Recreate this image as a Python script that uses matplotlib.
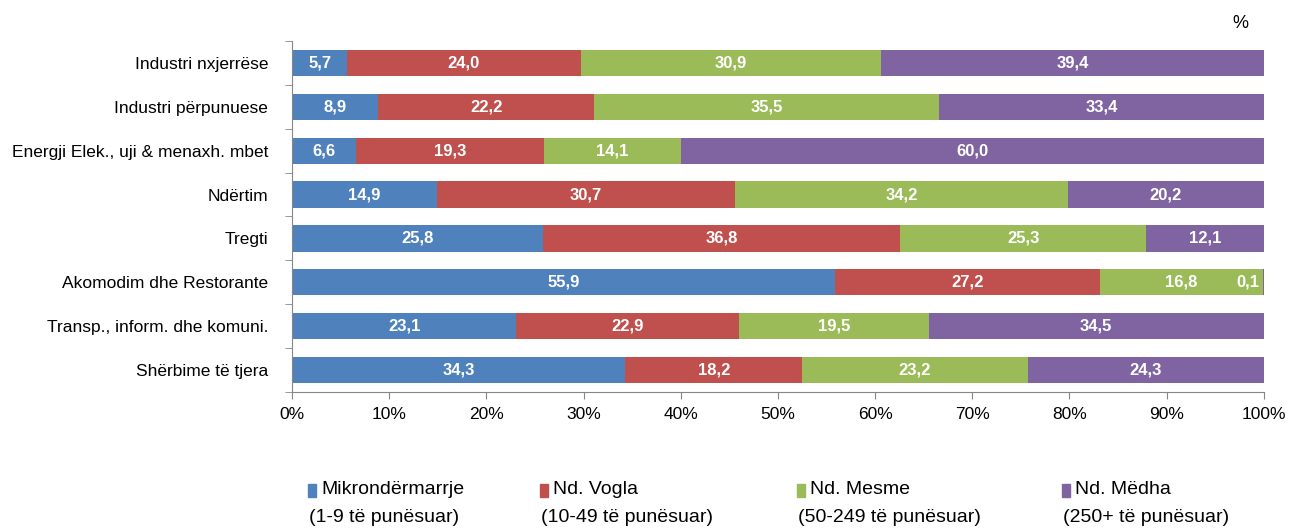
import numpy as np
import matplotlib.pyplot as plt
from matplotlib.patches import Rectangle
from matplotlib.ticker import MultipleLocator, FixedLocator

plt.rcParams['font.family'] = ['Liberation Sans', 'DejaVu Sans']

# --- data ---
sectors = ["Industri nxjerrëse", "Industri përpunuese", "Energji Elek., uji & menaxh. mbet",
           "Ndërtim", "Tregti", "Akomodim dhe Restorante",
           "Transp., inform. dhe komuni.", "Shërbime të tjera"]
micro = [5.7, 8.9, 6.6, 14.9, 25.8, 55.9, 23.1, 34.3]
small = [24.0, 22.2, 19.3, 30.7, 36.8, 27.2, 22.9, 18.2]
medium = [30.9, 35.5, 14.1, 34.2, 25.3, 16.8, 19.5, 23.2]
large = [39.4, 33.4, 60.0, 20.2, 12.1, 0.1, 34.5, 24.3]
series_names = ["Mikrondërmarrje", "Nd. Vogla", "Nd. Mesme", "Nd. Mëdha"]
series_sub = ["(1-9 të punësuar)", "(10-49 të punësuar)",
              "(50-249 të punësuar)", "(250+ të punësuar)"]
colors = ['#4F81BD', '#C0504D', '#9BBB59', '#8064A2']

W, H = 1289, 529
fig = plt.figure(figsize=(W / 100, H / 100), dpi=100)
ax = fig.add_axes([0.2265, 0.259, 0.754, 0.6635])

y = np.arange(len(sectors))
left = np.zeros(len(sectors))
for vals, col in zip([micro, small, medium, large], colors):
    vals = np.array(vals)
    ax.barh(y, vals, left=left, height=0.6, color=col)
    for yi, (l, v) in enumerate(zip(left, vals)):
        txt = f"{v:.1f}".replace('.', ',')
        if v < 1:
            ax.text(l - 0.4, yi, txt, ha='right', va='center', color='white',
                    fontsize=12, fontweight='bold')
        else:
            ax.text(l + v / 2, yi, txt, ha='center', va='center', color='white',
                    fontsize=12, fontweight='bold')
    left = left + vals

ax.set_xlim(0, 100)
ax.set_ylim(len(sectors) - 0.5, -0.5)
ax.set_yticks(y)
ax.set_yticklabels(sectors, fontsize=12.5)
ax.yaxis.set_minor_locator(FixedLocator(np.arange(-0.5, len(sectors), 1)))
ax.tick_params(axis='y', which='major', length=0, pad=17)
ax.tick_params(axis='y', which='minor', length=5, color='#868686')
ax.xaxis.set_major_locator(MultipleLocator(10))
ax.set_xticklabels([f"{int(t)}%" for t in ax.get_xticks()], fontsize=12.5)
ax.tick_params(axis='x', length=5, color='#868686', pad=6)
for s in ['top', 'right']:
    ax.spines[s].set_visible(False)
for s in ['left', 'bottom']:
    ax.spines[s].set_color('#868686')

fig.text(0.962, 0.955, "%", fontsize=13, ha='center', va='center')

# legend: square marker + two-line label
leg_x = [308, 540, 797, 1062]
for x0, name, sub, col in zip(leg_x, series_names, series_sub, colors):
    fig.patches.append(Rectangle((x0 / W, (H - 497) / H), 8 / W, 13 / H,
                                 transform=fig.transFigure, color=col))
    fig.text((x0 + 13) / W, (H - 490) / H, name, fontsize=14, va='center', ha='left')
    fig.text((x0 + 1) / W, (H - 517) / H, sub, fontsize=14, va='center', ha='left')

fig.savefig("out.png", dpi=100)
